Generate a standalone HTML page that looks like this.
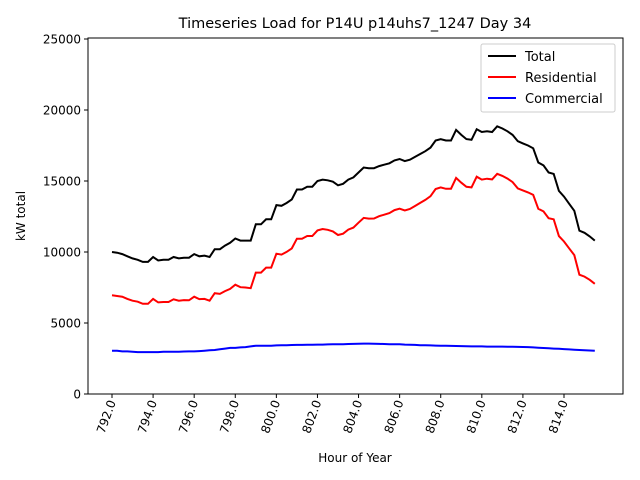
<!DOCTYPE html>
<html><head><meta charset="utf-8"><style>
body{margin:0;background:#fff}
svg{display:block;font-family:"DejaVu Sans","Liberation Sans",sans-serif}
</style></head><body>
<svg id="chart" width="640" height="480">
<rect width="640" height="480" fill="#fff"/>
<text x="355" y="28" font-size="14.5" text-anchor="middle">Timeseries Load for P14U p14uhs7_1247  Day 34</text>
<text x="355" y="462" font-size="12" text-anchor="middle">Hour of Year</text>
<text transform="translate(25,216) rotate(-90)" font-size="12" text-anchor="middle">kW total</text>
<g id="xticks"></g>
<g id="yticks"></g>
<g id="lines"></g>
<rect x="88" y="38" width="535" height="356" fill="none" stroke="#000" stroke-width="1"/>
<g>
<rect x="481" y="44" width="134" height="68" rx="2" fill="#fff" stroke="#ccc"/>
<line x1="488" y1="56" x2="516" y2="56" stroke="#000" stroke-width="2"/>
<text x="525" y="61" font-size="13">Total</text>
<line x1="488" y1="77" x2="516" y2="77" stroke="#f00" stroke-width="2"/>
<text x="525" y="82" font-size="13">Residential</text>
<line x1="488" y1="98" x2="516" y2="98" stroke="#00f" stroke-width="2"/>
<text x="525" y="103" font-size="13">Commercial</text>
</g>
</svg>
<script>
const startHour = 792;
const stepHour = 0.25;
const xTickValues = [792,794,796,798,800,802,804,806,808,810,812,814];
const yTickValues = [0,5000,10000,15000,20000,25000];
const total = [10000,9950,9850,9700, 9550,9450,9300,9300, 9650,9400,9450,9450, 9650,9550,9600,9600,
 9850,9700,9750,9650, 10200,10200,10450,10650, 10950,10800,10800,10800, 11950,11950,12300,12300,
 13300,13250,13450,13700, 14400,14400,14600,14600, 15000,15100,15050,14950, 14700,14800,15100,15250,
 15600,15950,15900,15900, 16050,16150,16250,16450, 16550,16400,16500,16700, 16900,17100,17350,17850,
 17950,17850,17850,18600, 18250,17950,17900,18650, 18450,18500,18450,18850, 18700,18500,18250,17800,
 17650,17500,17300,16300, 16100,15600,15500,14300, 13900,13400,12900,11500, 11350,11100,10800];
const residential = [6950,6900,6850,6700, 6570,6500,6350,6350, 6700,6450,6480,6480, 6670,6570,6610,6600,
 6850,6680,6700,6570, 7100,7050,7250,7400, 7700,7520,7500,7450, 8550,8550,8900,8900,
 9880,9820,10010,10250, 10940,10940,11130,11130, 11520,11620,11560,11450, 11200,11290,11580,11720,
 12060,12400,12350,12360, 12520,12630,12740,12950, 13050,12920,13030,13240, 13460,13670,13930,14440,
 14550,14450,14460,15220, 14880,14590,14550,15300, 15100,15160,15110,15510, 15360,15170,14920,14480,
 14340,14200,14020,13040, 12860,12380,12300,11120, 10740,10260,9780,8400, 8270,8040,7760];
const commercial = [3050,3050,3000,3000, 2980,2950,2950,2950, 2950,2950,2970,2970, 2980,2980,2990,3000,
 3000,3020,3050,3080, 3100,3150,3200,3250, 3250,3280,3300,3350, 3400,3400,3400,3400,
 3420,3430,3440,3450, 3460,3460,3470,3470, 3480,3480,3490,3500, 3500,3510,3520,3530,
 3540,3550,3550,3540, 3530,3520,3510,3500, 3500,3480,3470,3460, 3440,3430,3420,3410,
 3400,3400,3390,3380, 3370,3360,3350,3350, 3350,3340,3340,3340, 3340,3330,3330,3320,
 3310,3300,3280,3260, 3240,3220,3200,3180, 3160,3140,3120,3100, 3080,3060,3040];

const NS="http://www.w3.org/2000/svg";
function xScale(h){return 112+(h-792)*(564-112)/22;}
function yScale(v){return 394-v*355/25000;}
const xt=document.getElementById('xticks');
xTickValues.forEach(t=>{
  const x=xScale(t);
  const l=document.createElementNS(NS,'line');
  l.setAttribute('x1',x);l.setAttribute('x2',x);l.setAttribute('y1',394);l.setAttribute('y2',398);l.setAttribute('stroke','#000');
  
  
  xt.appendChild(l);
  const tx=document.createElementNS(NS,'text');
  tx.setAttribute('transform',`translate(${x+4},${402}) rotate(-70)`);
  tx.setAttribute('text-anchor','end');tx.setAttribute('font-size','12');
  tx.textContent=t.toFixed(1);
  
  
  xt.appendChild(tx);
});
const yt=document.getElementById('yticks');
yTickValues.forEach(t=>{
  const y=yScale(t);
  const l=document.createElementNS(NS,'line');
  l.setAttribute('x1',84);l.setAttribute('x2',88);l.setAttribute('y1',y);l.setAttribute('y2',y);l.setAttribute('stroke','#000');
  
  
  yt.appendChild(l);
  const tx=document.createElementNS(NS,'text');
  tx.setAttribute('x',81);tx.setAttribute('y',y+4.5);
  tx.setAttribute('text-anchor','end');tx.setAttribute('font-size','12');
  tx.textContent=t;
  
  
  yt.appendChild(tx);
});
const lg=document.getElementById('lines');
[[total,'#000','total-line'],[residential,'#f00','residential-line'],[commercial,'#00f','commercial-line']].forEach(([arr,c,n])=>{
  const p=document.createElementNS(NS,'polyline');
  p.setAttribute('points',arr.map((v,i)=>xScale(startHour+i*stepHour).toFixed(1)+','+yScale(v).toFixed(1)).join(' '));
  p.setAttribute('fill','none');p.setAttribute('stroke',c);p.setAttribute('stroke-width','2');
  
  
  lg.appendChild(p);
});
</script>
</body></html>
